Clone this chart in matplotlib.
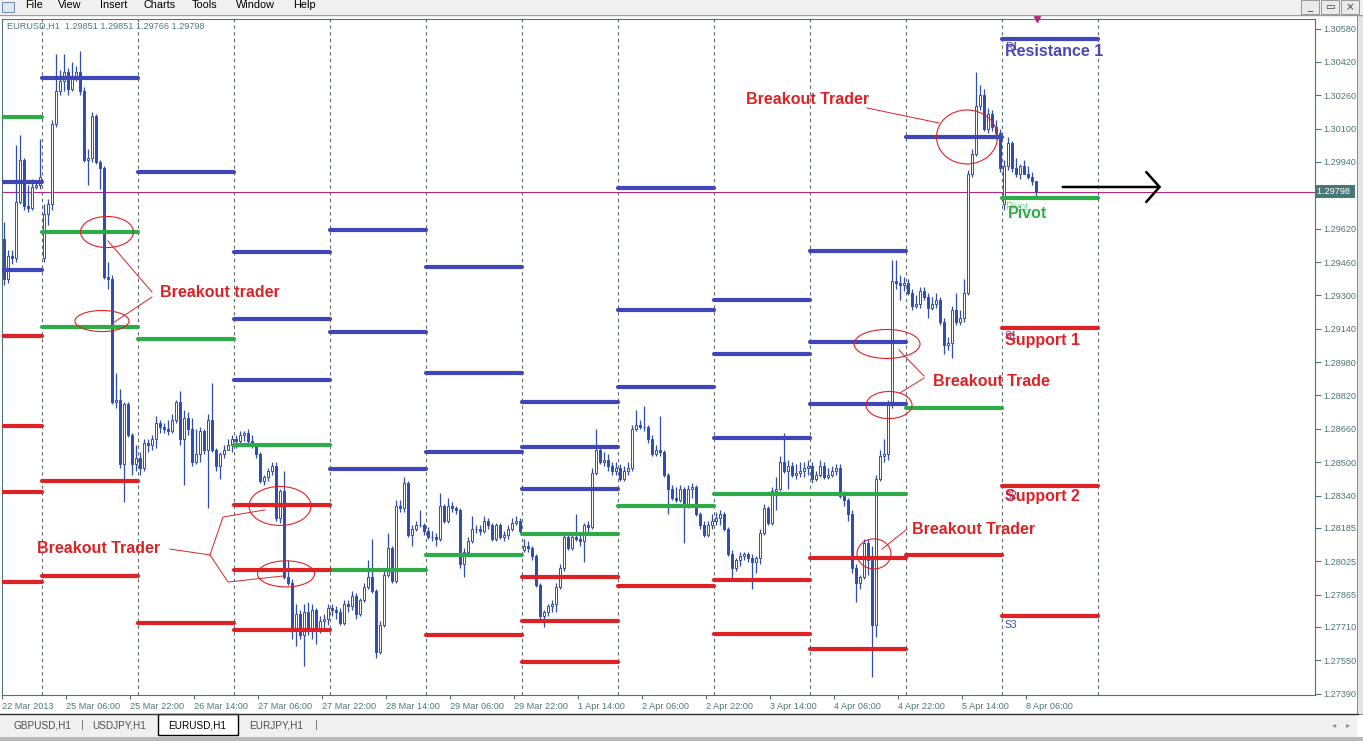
import matplotlib.pyplot as plt
import matplotlib.transforms as mtransforms
from matplotlib.patches import Ellipse, Rectangle
from matplotlib.collections import LineCollection

plt.rcParams['font.family'] = ['Liberation Sans', 'DejaVu Sans']

# EURUSD H1 bars, 22 Mar 2013 14:00 .. 8 Apr 2013 08:00 (weekends skipped)
opens = [
    1.2957, 1.2938, 1.2949, 1.2948, 1.2975, 1.2995, 1.2973, 1.2972, 1.2982, 1.2983,
    1.2948, 1.2969, 1.2974, 1.3012, 1.3028, 1.3033, 1.3037, 1.3029, 1.3035, 1.3037,
    1.3028, 1.2995, 1.2996, 1.3016, 1.2994, 1.2991, 1.2939, 1.2938, 1.2879, 1.2880,
    1.2849, 1.2878, 1.2863, 1.2849, 1.2852, 1.2847, 1.2859, 1.2858, 1.2861, 1.2869,
    1.2867, 1.2866, 1.2865, 1.2870, 1.2879, 1.2861, 1.2871, 1.2866, 1.2850, 1.2854,
    1.2865, 1.2856, 1.2870, 1.2856, 1.2848, 1.2854, 1.2856, 1.2858, 1.2861, 1.2860,
    1.2863, 1.2864, 1.2860, 1.2858, 1.2854, 1.2841, 1.2843, 1.2846, 1.2848, 1.2823,
    1.2836, 1.2795, 1.2792, 1.2770, 1.2777, 1.2767, 1.2778, 1.2770, 1.2779, 1.2769,
    1.2774, 1.2775, 1.2780, 1.2779, 1.2778, 1.2773, 1.2782, 1.2781, 1.2786, 1.2777,
    1.2784, 1.2790, 1.2795, 1.2788, 1.2759, 1.2772, 1.2796, 1.2809, 1.2793, 1.2829,
    1.2828, 1.2840, 1.2815, 1.2818, 1.2820, 1.2820, 1.2817, 1.2814, 1.2814, 1.2813,
    1.2829, 1.2822, 1.2829, 1.2828, 1.2827, 1.2801, 1.2807, 1.2812, 1.2818, 1.2818,
    1.2817, 1.2822, 1.2820, 1.2813, 1.2820, 1.2814, 1.2815, 1.2818, 1.2821, 1.2822,
    1.2808, 1.2810, 1.2809, 1.2805, 1.2791, 1.2776, 1.2778, 1.2781, 1.2782, 1.2790,
    1.2799, 1.2814, 1.2809, 1.2814, 1.2813, 1.2812, 1.2820, 1.2819, 1.2845, 1.2856,
    1.2850, 1.2851, 1.2848, 1.2846, 1.2847, 1.2842, 1.2846, 1.2847, 1.2866, 1.2868,
    1.2867, 1.2867, 1.2861, 1.2854, 1.2856, 1.2855, 1.2844, 1.2837, 1.2833, 1.2832,
    1.2837, 1.2829, 1.2837, 1.2838, 1.2825, 1.2820, 1.2815, 1.2820, 1.2822, 1.2823,
    1.2825, 1.2818, 1.2806, 1.2799, 1.2803, 1.2805, 1.2806, 1.2804, 1.2802, 1.2804,
    1.2816, 1.2828, 1.2821, 1.2836, 1.2837, 1.2850, 1.2846, 1.2848, 1.2844, 1.2845,
    1.2846, 1.2847, 1.2848, 1.2842, 1.2844, 1.2848, 1.2843, 1.2844, 1.2846, 1.2847,
    1.2834, 1.2832, 1.2825, 1.2799, 1.2792, 1.2795, 1.2811, 1.2803, 1.2772, 1.2842,
    1.2853, 1.2854, 1.2878, 1.2937, 1.2936, 1.2935, 1.2936, 1.2931, 1.2925, 1.2926,
    1.2932, 1.2929, 1.2924, 1.2926, 1.2928, 1.2917, 1.2906, 1.2907, 1.2923, 1.2917,
    1.2919, 1.2931, 1.2988, 1.2998, 1.3021, 1.3026, 1.3010, 1.3017, 1.3011, 1.3008,
    1.2974, 1.2992, 1.3003, 1.2991, 1.2988, 1.2992, 1.2988, 1.2987, 1.29851,
]
highs = [
    1.2965, 1.2952, 1.2952, 1.3002, 1.3007, 1.2996, 1.2983, 1.2986, 1.2985, 1.3005,
    1.2974, 1.2976, 1.3014, 1.3046, 1.3038, 1.3046, 1.3039, 1.3042, 1.3040, 1.3047,
    1.3030, 1.3000, 1.3018, 1.3017, 1.2995, 1.2992, 1.2946, 1.2940, 1.2893, 1.2885,
    1.2879, 1.2879, 1.2864, 1.2858, 1.2855, 1.2861, 1.2861, 1.2863, 1.2872, 1.2870,
    1.2869, 1.2870, 1.2873, 1.2880, 1.2884, 1.2875, 1.2874, 1.2871, 1.2866, 1.2867,
    1.2866, 1.2873, 1.2888, 1.2857, 1.2855, 1.2858, 1.2861, 1.2863, 1.2863, 1.2865,
    1.2865, 1.2866, 1.2863, 1.2859, 1.2855, 1.2844, 1.2847, 1.2850, 1.2850, 1.2837,
    1.2846, 1.2803, 1.2794, 1.2782, 1.2779, 1.2782, 1.2783, 1.2782, 1.2780, 1.2776,
    1.2777, 1.2782, 1.2782, 1.2781, 1.2780, 1.2784, 1.2784, 1.2788, 1.2787, 1.2785,
    1.2792, 1.2803, 1.2813, 1.2789, 1.2774, 1.2798, 1.2816, 1.2810, 1.2832, 1.2832,
    1.2843, 1.2841, 1.2820, 1.2822, 1.2827, 1.2821, 1.2819, 1.2817, 1.2816, 1.2835,
    1.2830, 1.2833, 1.2831, 1.2829, 1.2828, 1.2809, 1.2814, 1.2824, 1.2820, 1.2820,
    1.2824, 1.2823, 1.2821, 1.2821, 1.2821, 1.2817, 1.2820, 1.2823, 1.2824, 1.2823,
    1.2813, 1.2812, 1.2810, 1.2806, 1.2792, 1.2779, 1.2782, 1.2784, 1.2792, 1.2801,
    1.2816, 1.2815, 1.2816, 1.2825, 1.2815, 1.2821, 1.2822, 1.2847, 1.2866, 1.2858,
    1.2855, 1.2854, 1.2850, 1.2850, 1.2849, 1.2848, 1.2850, 1.2868, 1.2875, 1.2870,
    1.2877, 1.2868, 1.2863, 1.2858, 1.2872, 1.2856, 1.2845, 1.2839, 1.2838, 1.2839,
    1.2838, 1.2839, 1.2840, 1.2839, 1.2826, 1.2822, 1.2822, 1.2825, 1.2826, 1.2827,
    1.2826, 1.2819, 1.2808, 1.2804, 1.2807, 1.2807, 1.2807, 1.2806, 1.2805, 1.2818,
    1.2830, 1.2829, 1.2838, 1.2843, 1.2853, 1.2864, 1.2851, 1.2850, 1.2849, 1.2850,
    1.2850, 1.2851, 1.2850, 1.2846, 1.2851, 1.2850, 1.2847, 1.2848, 1.2849, 1.2849,
    1.2836, 1.2833, 1.2827, 1.2801, 1.2796, 1.2813, 1.2813, 1.2810, 1.2844, 1.2856,
    1.2861, 1.2880, 1.2947, 1.2947, 1.2940, 1.2939, 1.2938, 1.2933, 1.2930, 1.2934,
    1.2934, 1.2931, 1.2929, 1.2931, 1.2929, 1.2919, 1.2910, 1.2925, 1.2931, 1.2923,
    1.2938, 1.2990, 1.3000, 1.3037, 1.3031, 1.3029, 1.3020, 1.3019, 1.3014, 1.3010,
    1.2995, 1.3006, 1.3004, 1.2996, 1.2993, 1.2995, 1.2992, 1.2989, 1.29851,
]
lows = [
    1.2935, 1.2936, 1.2945, 1.2946, 1.2974, 1.2971, 1.2970, 1.2971, 1.2981, 1.2981,
    1.2946, 1.2964, 1.2971, 1.3011, 1.3026, 1.3028, 1.3026, 1.3028, 1.3033, 1.3026,
    1.2994, 1.2983, 1.2994, 1.2993, 1.2981, 1.2938, 1.2933, 1.2878, 1.2876, 1.2847,
    1.2831, 1.2862, 1.2844, 1.2846, 1.2844, 1.2846, 1.2855, 1.2856, 1.2857, 1.2864,
    1.2864, 1.2863, 1.2864, 1.2869, 1.2858, 1.2839, 1.2863, 1.2848, 1.2849, 1.2850,
    1.2854, 1.2828, 1.2855, 1.2846, 1.2842, 1.2852, 1.2856, 1.2855, 1.2857, 1.2859,
    1.2860, 1.2859, 1.2857, 1.2852, 1.2840, 1.2839, 1.2841, 1.2844, 1.2822, 1.2821,
    1.2794, 1.2791, 1.2765, 1.2762, 1.2765, 1.2752, 1.2767, 1.2765, 1.2763, 1.2768,
    1.2770, 1.2772, 1.2776, 1.2775, 1.2772, 1.2772, 1.2778, 1.2779, 1.2775, 1.2776,
    1.2783, 1.2789, 1.2787, 1.2756, 1.2758, 1.2771, 1.2795, 1.2792, 1.2792, 1.2826,
    1.2826, 1.2814, 1.2810, 1.2817, 1.2819, 1.2815, 1.2813, 1.2812, 1.2810, 1.2812,
    1.2821, 1.2821, 1.2826, 1.2825, 1.2799, 1.2795, 1.2806, 1.2811, 1.2816, 1.2815,
    1.2816, 1.2818, 1.2812, 1.2812, 1.2813, 1.2812, 1.2813, 1.2817, 1.2820, 1.2816,
    1.2807, 1.2807, 1.2803, 1.2790, 1.2774, 1.2771, 1.2776, 1.2778, 1.2778, 1.2789,
    1.2798, 1.2808, 1.2808, 1.2812, 1.2810, 1.2802, 1.2816, 1.2818, 1.2844, 1.2849,
    1.2848, 1.2846, 1.2844, 1.2844, 1.2841, 1.2841, 1.2844, 1.2846, 1.2865, 1.2866,
    1.2865, 1.2859, 1.2853, 1.2853, 1.2853, 1.2843, 1.2825, 1.2832, 1.2831, 1.2831,
    1.2811, 1.2828, 1.2833, 1.2824, 1.2818, 1.2814, 1.2814, 1.2818, 1.2820, 1.2820,
    1.2817, 1.2805, 1.2794, 1.2798, 1.2800, 1.2803, 1.2802, 1.2789, 1.2797, 1.2801,
    1.2815, 1.2820, 1.2820, 1.2827, 1.2836, 1.2845, 1.2837, 1.2843, 1.2842, 1.2843,
    1.2843, 1.2844, 1.2840, 1.2841, 1.2843, 1.2842, 1.2842, 1.2843, 1.2844, 1.2833,
    1.2829, 1.2822, 1.2797, 1.2783, 1.2789, 1.2794, 1.2796, 1.2747, 1.2766, 1.2841,
    1.2850, 1.2851, 1.2876, 1.2933, 1.2928, 1.2932, 1.2930, 1.2923, 1.2924, 1.2924,
    1.2928, 1.2919, 1.2923, 1.2924, 1.2916, 1.2902, 1.2904, 1.2900, 1.2916, 1.2916,
    1.2917, 1.2930, 1.2987, 1.2997, 1.3019, 1.3009, 1.3008, 1.3009, 1.3005, 1.2989,
    1.2971, 1.2990, 1.2989, 1.2987, 1.2986, 1.2988, 1.2986, 1.2983, 1.29766,
]
closes = [
    1.2938, 1.2949, 1.2948, 1.2975, 1.2995, 1.2973, 1.2972, 1.2982, 1.2983, 1.2987,
    1.2969, 1.2974, 1.3012, 1.3028, 1.3033, 1.3037, 1.3029, 1.3035, 1.3037, 1.3028,
    1.2995, 1.2996, 1.3016, 1.2994, 1.2991, 1.2939, 1.2938, 1.2879, 1.2880, 1.2849,
    1.2878, 1.2863, 1.2849, 1.2852, 1.2847, 1.2859, 1.2858, 1.2861, 1.2869, 1.2867,
    1.2866, 1.2865, 1.2870, 1.2879, 1.2861, 1.2871, 1.2866, 1.2850, 1.2854, 1.2865,
    1.2856, 1.2870, 1.2856, 1.2848, 1.2854, 1.2856, 1.2858, 1.2861, 1.2860, 1.2863,
    1.2864, 1.2860, 1.2858, 1.2854, 1.2841, 1.2843, 1.2846, 1.2848, 1.2823, 1.2836,
    1.2795, 1.2792, 1.2770, 1.2777, 1.2767, 1.2778, 1.2770, 1.2779, 1.2769, 1.2774,
    1.2775, 1.2780, 1.2779, 1.2778, 1.2773, 1.2782, 1.2781, 1.2786, 1.2777, 1.2784,
    1.2790, 1.2795, 1.2788, 1.2759, 1.2772, 1.2796, 1.2809, 1.2793, 1.2829, 1.2828,
    1.2840, 1.2815, 1.2818, 1.2820, 1.2820, 1.2817, 1.2814, 1.2814, 1.2813, 1.2829,
    1.2822, 1.2829, 1.2828, 1.2827, 1.2801, 1.2807, 1.2812, 1.2818, 1.2818, 1.2817,
    1.2822, 1.2820, 1.2813, 1.2820, 1.2814, 1.2815, 1.2818, 1.2821, 1.2822, 1.2817,
    1.2810, 1.2809, 1.2805, 1.2791, 1.2776, 1.2778, 1.2781, 1.2782, 1.2790, 1.2799,
    1.2814, 1.2809, 1.2814, 1.2813, 1.2812, 1.2820, 1.2819, 1.2845, 1.2856, 1.2850,
    1.2851, 1.2848, 1.2846, 1.2847, 1.2842, 1.2846, 1.2847, 1.2866, 1.2868, 1.2867,
    1.2867, 1.2861, 1.2854, 1.2856, 1.2855, 1.2844, 1.2837, 1.2833, 1.2832, 1.2837,
    1.2829, 1.2837, 1.2838, 1.2825, 1.2820, 1.2815, 1.2820, 1.2822, 1.2823, 1.2825,
    1.2818, 1.2806, 1.2799, 1.2803, 1.2805, 1.2806, 1.2804, 1.2802, 1.2804, 1.2816,
    1.2828, 1.2821, 1.2836, 1.2837, 1.2850, 1.2846, 1.2848, 1.2844, 1.2845, 1.2846,
    1.2847, 1.2848, 1.2842, 1.2844, 1.2848, 1.2843, 1.2844, 1.2846, 1.2847, 1.2834,
    1.2832, 1.2825, 1.2799, 1.2792, 1.2795, 1.2811, 1.2803, 1.2772, 1.2842, 1.2853,
    1.2854, 1.2878, 1.2937, 1.2936, 1.2935, 1.2936, 1.2931, 1.2925, 1.2926, 1.2932,
    1.2929, 1.2924, 1.2926, 1.2928, 1.2917, 1.2906, 1.2907, 1.2923, 1.2917, 1.2919,
    1.2931, 1.2988, 1.2998, 1.3021, 1.3026, 1.3010, 1.3017, 1.3011, 1.3008, 1.2991,
    1.2992, 1.3003, 1.2991, 1.2988, 1.2992, 1.2988, 1.2987, 1.29851, 1.29798,
]

# daily pivot levels, one entry per trading day (first bar, end bar)
day_first = [0, 10, 34, 58, 82, 106, 130, 154, 178, 202, 226, 250]
day_end = [10, 34, 58, 82, 106, 130, 154, 178, 202, 226, 250, 274]
res_levels = [
    [1.29842, 1.29424], [1.30341], [1.29894], [1.29506, 1.29189, 1.28896],
    [1.29616, 1.29126, 1.28469], [1.29434, 1.28930, 1.28550],
    [1.28790, 1.28574, 1.28373], [1.29813, 1.29232, 1.28860],
    [1.29280, 1.29021, 1.28615], [1.29515, 1.29078, 1.28781],
    [1.30058], [1.30528],
]
piv_levels = [
    [1.30158], [1.29606, 1.29146], [1.29093], [1.28582], [1.27984], [1.28056],
    [1.28157], [1.28288], [1.28346], [1.28346], [1.28762], [1.29765],
]
sup_levels = [
    [1.29105, 1.28675, 1.28358, 1.27926], [1.28411, 1.27955], [1.27730],
    [1.28296, 1.27984, 1.27696], [], [1.27669], [1.27950, 1.27739, 1.27542],
    [1.27907], [1.27936, 1.27677], [1.28039, 1.27605], [1.28054],
    [1.29142, 1.28387, 1.27763],
]

time_tick_bars = [0, 16, 32, 48, 64, 80, 96, 112, 128, 144, 160, 176, 192, 208, 224, 240, 256]
time_tick_labels = ['22 Mar 2013', '25 Mar 06:00', '25 Mar 22:00', '26 Mar 14:00', '27 Mar 06:00',
                    '27 Mar 22:00', '28 Mar 14:00', '29 Mar 06:00', '29 Mar 22:00', '1 Apr 14:00',
                    '2 Apr 06:00', '2 Apr 22:00', '3 Apr 14:00', '4 Apr 06:00', '4 Apr 22:00',
                    '5 Apr 14:00', '8 Apr 06:00']
price_ticks = [1.30580, 1.30420, 1.30260, 1.30100, 1.29940, 1.29620, 1.29460, 1.29300,
               1.29140, 1.28980, 1.28820, 1.28660, 1.28500, 1.28340, 1.28185, 1.28025,
               1.27865, 1.27710, 1.27550, 1.27390]

CANDLE = '#2f4db0'
BLUE = '#3f47b8'
GREEN = '#2eaa48'
RED = '#dd2226'
MAG = '#b8257f'
AXC = '#4f7474'

W, H = 1363, 741
fig = plt.figure(figsize=(W / 100, H / 100), dpi=100)
fig.patch.set_facecolor('white')


def fx(px):
    return px / W


def fy(py):
    return 1 - py / H


ax = fig.add_axes([fx(2), fy(695), fx(1315) - fx(2), fy(19) - fy(695)])
ax.set_xlim(-0.5, 327.75)
ax.set_ylim(1.30717 - 695 * 0.00004797, 1.30717 - 19 * 0.00004797)

# day separators
for b in day_end:
    ax.axvline(b - 0.5, color='#5a6a6a', lw=0.8, ls=(0, (3, 3)), zorder=1)

ax.axhline(closes[-1], color=MAG, lw=0.8, zorder=1.5)

# candles
idx = list(range(len(closes)))
ax.vlines(idx, lows, highs, color=CANDLE, lw=0.9, zorder=2)
bottoms = [min(o, c) for o, c in zip(opens, closes)]
heights = [abs(c - o) for o, c in zip(opens, closes)]
fills = ['white' if c >= o else CANDLE for o, c in zip(opens, closes)]
ax.bar(idx, heights, width=0.72, bottom=bottoms, color=fills, edgecolor=CANDLE,
       linewidth=0.7, zorder=2.5)

# pivot level segments
for levels, col in [(res_levels, BLUE), (piv_levels, GREEN), (sup_levels, RED)]:
    segs = []
    for d in range(len(day_first)):
        for lv in levels[d]:
            segs.append([(day_first[d] - 0.5, lv), (day_end[d] - 0.5, lv)])
    ax.add_collection(LineCollection(segs, colors=col, linewidths=3.0,
                                     capstyle='round', zorder=3))

# axes styling
for s in ax.spines.values():
    s.set_color(AXC)
    s.set_linewidth(0.8)
ax.yaxis.tick_right()
ax.set_yticks(price_ticks)
ax.set_yticklabels(['%.5f' % p for p in price_ticks])
ax.set_xticks([b - 0.5 for b in time_tick_bars])
ax.set_xticklabels(time_tick_labels)
for lab in ax.get_xticklabels():
    lab.set_ha('left')
ax.tick_params(axis='y', direction='out', length=4, width=0.8, color=AXC,
               labelcolor=AXC, labelsize=6.6, pad=2)
ax.tick_params(axis='x', direction='out', length=3, width=0.8, color=AXC,
               labelcolor=AXC, labelsize=6.6, pad=2)

# current price box
bt = mtransforms.blended_transform_factory(ax.transAxes, ax.transData)
ax.text(1.0015, closes[-1], '1.29798 ', transform=bt, ha='left', va='center',
        color='white', fontsize=6.6,
        bbox=dict(boxstyle='square,pad=0.25', fc='#457876', ec='none'), zorder=6)

ax.text(0.004, 0.989, 'EURUSD,H1  1.29851 1.29851 1.29766 1.29798', transform=ax.transAxes,
        ha='left', va='center', color='#4c7c78', fontsize=6.6)

# shift marker and arrow
ax.plot([258.3], [1.30626], marker='v', color=MAG, ms=5, clip_on=False, zorder=6)
ax.annotate('', xy=(290, 1.29820), xytext=(264, 1.29820),
            arrowprops=dict(arrowstyle='->,head_length=0.8,head_width=0.9', lw=1.8,
                            color='black', mutation_scale=12))

# breakout annotations
ann_red = '#dd2226'
ellipses = [((25.75, 1.29604), 13.25, 0.00149), ((24.5, 1.29177), 13.5, 0.00101),
            ((69.0, 1.28290), 15.5, 0.00187), ((70.5, 1.27964), 14.25, 0.00125),
            ((240.75, 1.30060), 15.25, 0.00259), ((220.75, 1.29067), 16.5, 0.00139),
            ((221.25, 1.28774), 11.5, 0.00130), ((217.5, 1.28060), 8.5, 0.00144)]
for c, w, h in ellipses:
    ax.add_patch(Ellipse(c, w, h, fill=False, edgecolor=ann_red, lw=0.8, zorder=5))

connectors = [
    [(37, 1.29316), (26, 1.29561)],
    [(37, 1.29292), (27.25, 1.29168)],
    [(41.5, 1.28083), (51.5, 1.28055), (54.75, 1.28237), (65.25, 1.28271)],
    [(51.5, 1.28055), (56, 1.27925), (69.75, 1.27954)],
    [(215.75, 1.30199), (233.75, 1.30127)],
    [(230, 1.28913), (223.75, 1.29038)],
    [(230, 1.28904), (224, 1.28832)],
    [(225.75, 1.28179), (219.5, 1.28083)],
]
for pts in connectors:
    ax.plot([p[0] for p in pts], [p[1] for p in pts], color=ann_red, lw=0.7, zorder=5)

notes = [('Breakout trader', 39, 1.29316), ('Breakout Trader', 8.25, 1.28088),
         ('Breakout Trader', 185.5, 1.30242), ('Breakout Trade', 232.25, 1.28889),
         ('Breakout Trader', 227, 1.28175)]
for t, x, y in notes:
    ax.text(x, y, t, color=ann_red, fontsize=11.5, fontweight='bold', ha='left',
            va='center', zorder=6)

# level names on the last day
small = [('R1', 1.30492, '#5a3fa8'), ('Pivot', 1.29724, '#7fd28f'), ('S1', 1.29105, '#5a3fa8'),
         ('S2', 1.28338, '#5a3fa8'), ('S3', 1.27719, '#3f47b8')]
for t, y, col in small:
    ax.text(250.25, y, t, color=col, fontsize=7.5, ha='left', va='center', zorder=6)
big = [('Resistance 1', 250.25, 1.30468, '#4a48b4'), ('Pivot', 251, 1.29695, GREEN),
       ('Support 1', 250.25, 1.29086, ann_red), ('Support 2', 250.25, 1.28333, ann_red)]
for t, x, y, col in big:
    ax.text(x, y, t, color=col, fontsize=11.5, fontweight='bold', ha='left',
            va='center', zorder=6)

# terminal window chrome
fig.add_artist(Rectangle((0, fy(14)), 1, 14 / H, transform=fig.transFigure,
                         fc='#f0f0f0', ec='none', zorder=0))
fig.add_artist(plt.Line2D([0, 1], [fy(14.5), fy(14.5)], transform=fig.transFigure,
                          color='#9a9a9a', lw=1))
for t, x in [('File', 25), ('View', 58), ('Insert', 100), ('Charts', 143),
             ('Tools', 192), ('Window', 236), ('Help', 293)]:
    fig.text(fx(x), fy(5.5), t, fontsize=7.8, color='black', ha='left', va='center')
fig.add_artist(Rectangle((fx(2), fy(12)), 12 / W, 10 / H, transform=fig.transFigure,
                         fc='#dfe6ee', ec='#5a7aa0', lw=0.6))
for x0, g in [(1301, '_'), (1321, '\u25ad'), (1341, '\u00d7')]:
    fig.add_artist(Rectangle((fx(x0), fy(14)), 18 / W, 14 / H, transform=fig.transFigure,
                             fc='#eaeaea', ec='#8a8a8a', lw=0.6))
    fig.text(fx(x0 + 9), fy(7), g, fontsize=7.5, ha='center', va='center',
             color='#404040', family='DejaVu Sans')

# right scroll edge
fig.add_artist(Rectangle((fx(1357), fy(714)), 6 / W, (714 - 15) / H, transform=fig.transFigure,
                         fc='#e4e4e4', ec='#7a7a7a', lw=0.6))

# symbol tabs
fig.add_artist(Rectangle((0, fy(737)), fx(1357), (737 - 714) / H, transform=fig.transFigure,
                         fc='#f0f0f0', ec='none'))
fig.add_artist(plt.Line2D([0, fx(1358)], [fy(714), fy(714)], transform=fig.transFigure,
                          color='#303030', lw=1))
fig.add_artist(Rectangle((0, fy(741)), 1, 4 / H, transform=fig.transFigure,
                         fc='#b8b8b8', ec='none'))
fig.add_artist(Rectangle((fx(158), fy(735)), 80 / W, 21 / H, transform=fig.transFigure,
                         fc='white', ec='black', lw=1))
for t, x in [('GBPUSD,H1', 13), ('USDJPY,H1', 92), ('EURUSD,H1', 168), ('EURJPY,H1', 249)]:
    fig.text(fx(x), fy(725), t, fontsize=7.2, ha='left', va='center',
             color='black' if t == 'EURUSD,H1' else '#505050')
for x in [82, 316]:
    fig.text(fx(x), fy(725), '|', fontsize=8, ha='center', va='center', color='#707070')
fig.text(fx(1334), fy(725), '\u25c2', fontsize=6, ha='center', va='center', color='#909090',
         family='DejaVu Sans')
fig.text(fx(1348), fy(725), '\u25b8', fontsize=6, ha='center', va='center', color='#909090',
         family='DejaVu Sans')

fig.savefig('out.png', dpi=100)
